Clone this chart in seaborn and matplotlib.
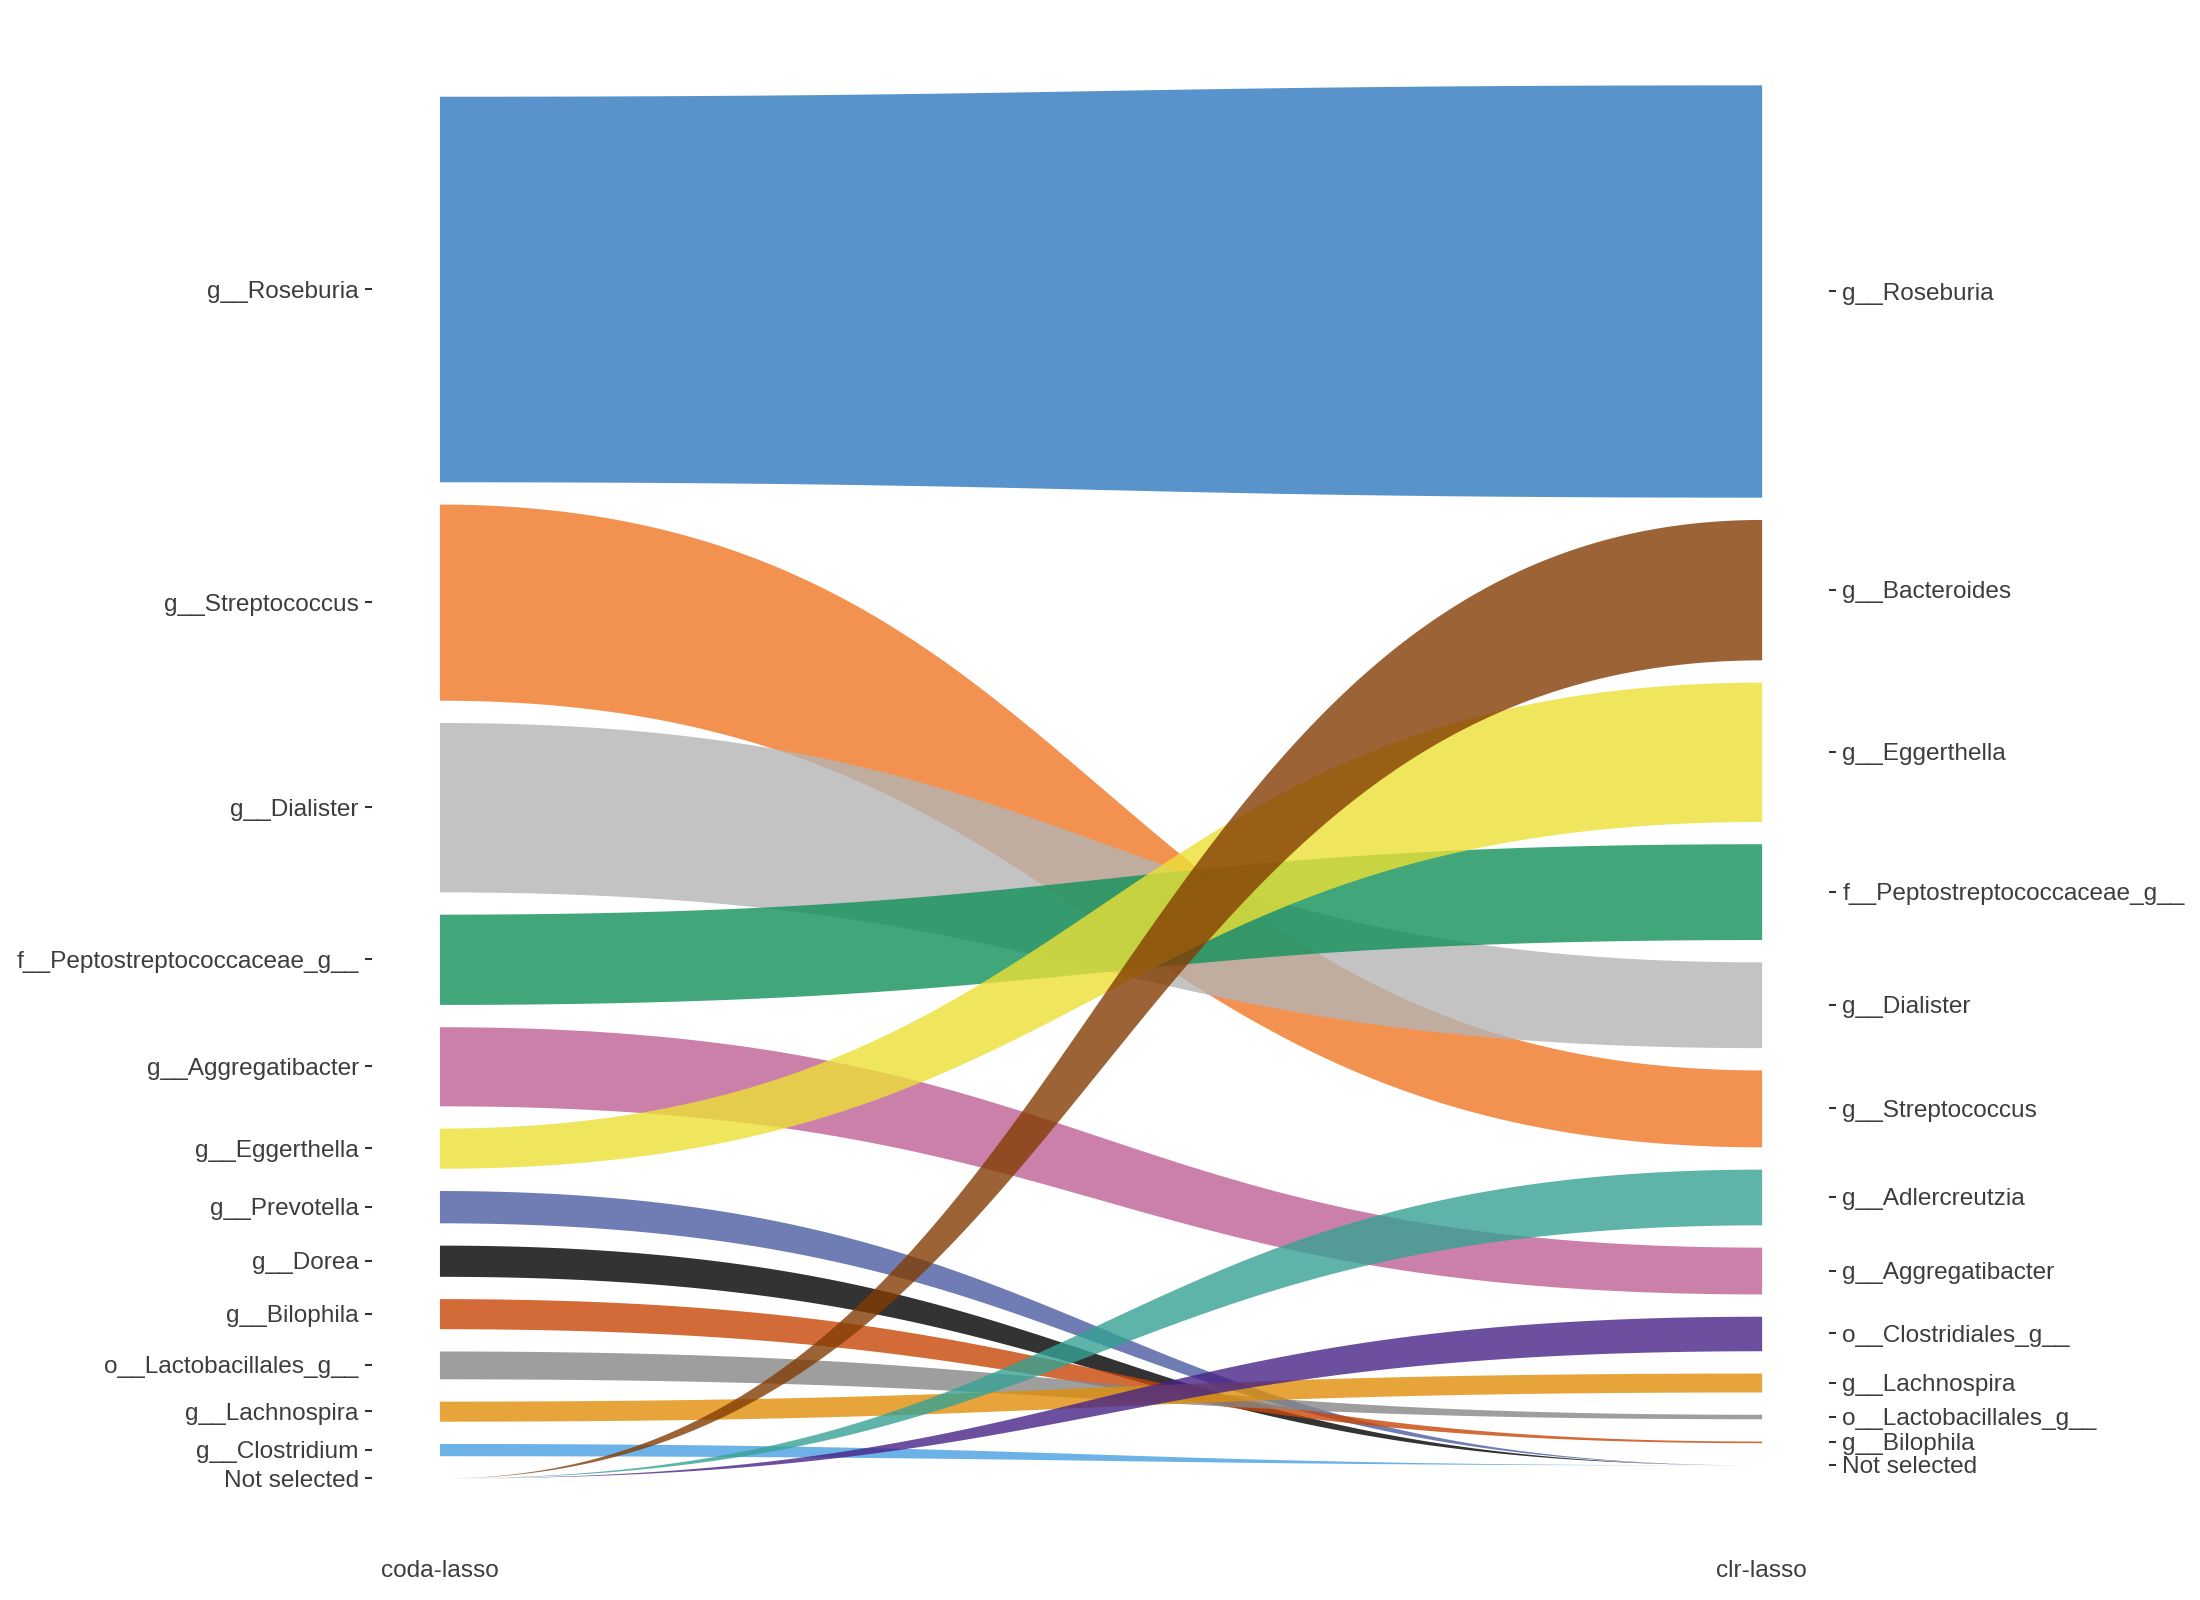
import numpy as np
import matplotlib
matplotlib.use("Agg")
import matplotlib.pyplot as plt
import seaborn as sns

# share of total selected weight (%) per taxon in each method, 0 = not selected
taxa = ["g__Roseburia", "g__Streptococcus", "g__Dialister",
        "f__Peptostreptococcaceae_g__", "g__Aggregatibacter", "g__Eggerthella",
        "g__Prevotella", "g__Dorea", "g__Bilophila", "o__Lactobacillales_g__",
        "g__Lachnospira", "g__Clostridium", "g__Bacteroides", "g__Adlercreutzia",
        "o__Clostridiales_g__"]
coda_lasso = [34.6, 17.6, 15.2, 8.1, 7.1, 3.6, 2.9, 2.8, 2.7, 2.5, 1.8, 1.1, 0, 0, 0]
clr_lasso = [37.0, 6.9, 7.7, 8.6, 4.2, 12.5, 0, 0, 0.15, 0.4, 1.7, 0, 12.6, 5.0, 3.1]
methods = ["coda-lasso", "clr-lasso"]

colors = ["#2E79BF", "#F07624", "#B5B5B5", "#12915A", "#BF6095", "#ECE036",
          "#4B5DA2", "#000000", "#C94606", "#868686", "#E08E09", "#479FE0",
          "#833D03", "#36A294", "#472387"]

NS = "Not selected"
gap = 2.0          # space between strata, same units as weights
col_base = [0.0, 1.17]
alpha = 0.8

sns.set_theme(style="white")
plt.rcParams['font.family'] = ['Liberation Sans', 'DejaVu Sans']


def stack(weights, base):
    # strata ordered by weight, "Not selected" at the bottom
    order = sorted([i for i in range(len(taxa)) if weights[i] > 0],
                   key=lambda i: -weights[i])
    pos = {}
    centers = {}
    y = base
    pos[NS] = (y, y)
    centers[NS] = y
    for i in reversed(order):
        y += gap
        pos[taxa[i]] = (y, y + weights[i])
        centers[taxa[i]] = y + weights[i] / 2
        y += weights[i]
    labels = [taxa[i] for i in order] + [NS]
    return pos, centers, labels, order


left_pos, left_c, left_labels, left_order = stack(coda_lasso, col_base[0])
right_pos, right_c, right_labels, right_order = stack(clr_lasso, col_base[1])

fig = plt.figure(figsize=(22, 16), dpi=100)
ax = fig.add_axes([0.1691, 0.0327, 0.6623, 0.9578])

s = np.linspace(0, 1, 300)
bx = 1.5 * s * (1 - s) + s ** 3
by = 3 * (1 - s) * s ** 2 + s ** 3
x = 1 + bx

# draw order: left strata top to bottom, then flows out of "Not selected"
draw = left_order + [i for i in right_order if coda_lasso[i] == 0]
for i in draw:
    t = taxa[i]
    l0, l1 = left_pos[t] if coda_lasso[i] > 0 else left_pos[NS]
    r0, r1 = right_pos[t] if clr_lasso[i] > 0 else right_pos[NS]
    lower = l0 + (r0 - l0) * by
    upper = l1 + (r1 - l1) * by
    ax.fill_between(x, lower, upper, color=colors[i], alpha=alpha, lw=0)

tops = [max(v[1] for v in left_pos.values()), max(v[1] for v in right_pos.values())]
lo, hi = min(col_base), max(tops)
rng = hi - lo
ax.set_ylim(lo - 0.05 * rng, hi + 0.05 * rng)
ax.set_xlim(0.949, 2.051)

ax.set_xticks([1, 2])
ax.set_xticklabels(methods)
ax.set_yticks([left_c[l] for l in left_labels])
ax.set_yticklabels(left_labels)

ax2 = ax.twinx()
ax2.set_ylim(ax.get_ylim())
ax2.set_yticks([right_c[l] for l in right_labels])
ax2.set_yticklabels(right_labels)

for a in (ax, ax2):
    for sp in a.spines.values():
        sp.set_visible(False)
    a.grid(False)
ax.tick_params(axis='y', left=True, length=5, width=1.5, color='#333333',
               pad=4.5, labelsize=17.6, labelcolor='#3d3d3d')
ax2.tick_params(axis='y', right=True, length=5, width=1.5, color='#333333',
                pad=4.5, labelsize=17.6, labelcolor='#3d3d3d')
ax.tick_params(axis='x', length=0, pad=9, labelsize=17.6, labelcolor='#3d3d3d')

fig.savefig("out.png", dpi=100, facecolor="white")
